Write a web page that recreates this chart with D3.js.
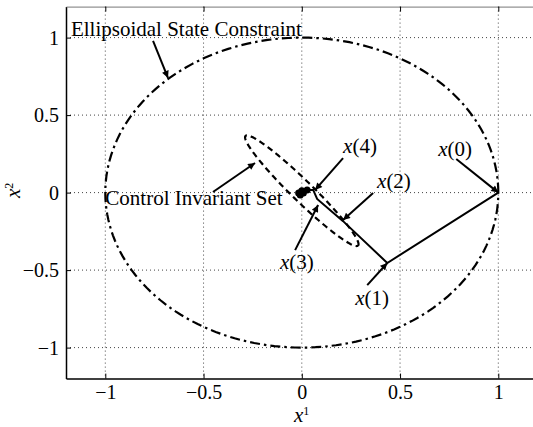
<!DOCTYPE html>
<html lang="en">
<head>
    <meta charset="UTF-8">
    <title>Ellipsoidal state constraint</title>
    <style>
        body { margin: 0; background: #fff; }
        text { font-family: "Liberation Serif", "Times New Roman", Times, serif; fill: #000; }
    </style>
</head>
<body>
<script src="https://d3js.org/d3.v7.min.js"></script>
<script>
    // tick values
    const xTicks = [-1, -0.5, 0, 0.5, 1];
    const yTicks = [-1, -0.5, 0, 0.5, 1];

    // state trajectory x(0), x(1), ...
    const trajX1 = [1, 0.435, 0.21, 0.078, 0.058, 0.027, 0.008, -0.008, -0.016, 0.0];
    const trajX2 = [0, -0.454, -0.184, -0.041, 0.017, 0.017, -0.003, -0.015, -0.002, 0.012];

    // state constraint: unit circle; invariant set: tilted ellipse
    const constraintCenter = [0, 0];
    const constraintRadius = 1;
    const invCenter = [0.0, 0.012];
    const invMajor = [0.285, -0.355];
    const invMinor = [0.046, 0.037];

    // annotations: label, text position, arrow tail, arrow tip (data units)
    const annLabels = ["Ellipsoidal State Constraint", "Control Invariant Set", "0", "1", "2", "3", "4"];
    const annIsState = [false, false, true, true, true, true, true];
    const annText = [[-1.175, 1.011], [-1.0, -0.08], [0.694, 0.236], [0.272, -0.726], [0.383, 0.03], [-0.111, -0.493], [0.21, 0.256]];
    const annTail = [[-0.757, 0.979], [-0.452, 0.004], [0.786, 0.217], [0.333, -0.597], [0.363, -0.003], [-0.034, -0.371], [0.21, 0.223]];
    const annTip = [[-0.681, 0.74], [-0.238, 0.191], [1, 0], [0.435, -0.454], [0.21, -0.177], [0.083, -0.08], [0.068, 0.017]];

    const W = 533, H = 427;
    const FS = 21;
    const x = d3.scaleLinear().domain([-1.2, 1.2]).range([66, 537.6]);
    const y = d3.scaleLinear().domain([-1.2, 1.2]).range([378.6, 6.6]);
    const fmt = d3.format("");

    const svg = d3.select("body").append("svg")
        .attr("width", W)
        .attr("height", H);

    const defs = svg.append("defs");
    defs.append("marker")
        .attr("id", "head")
        .attr("viewBox", "0 0 10 10")
        .attr("refX", 10)
        .attr("refY", 5)
        .attr("markerUnits", "userSpaceOnUse")
        .attr("markerWidth", 11)
        .attr("markerHeight", 7)
        .attr("orient", "auto")
        .append("path")
        .attr("d", "M0,0L10,5L0,10Z")
        .attr("fill", "#000");

    // grid
    svg.append("g").selectAll("line")
        .data(xTicks).enter().append("line")
        .attr("x1", d => x(d)).attr("x2", d => x(d))
        .attr("y1", y(1.2)).attr("y2", y(-1.2))
        .attr("stroke", "#444").attr("stroke-width", 1)
        .attr("stroke-dasharray", "1,3");
    svg.append("g").selectAll("line")
        .data(yTicks).enter().append("line")
        .attr("x1", x(-1.2)).attr("x2", x(1.2))
        .attr("y1", d => y(d)).attr("y2", d => y(d))
        .attr("stroke", "#444").attr("stroke-width", 1)
        .attr("stroke-dasharray", "1,3");

    // axes
    const xAxis = svg.append("g")
        .attr("transform", `translate(0,${y(-1.2)})`)
        .call(d3.axisBottom(x).tickValues(xTicks).tickFormat(fmt).tickSizeInner(-5).tickSizeOuter(0).tickPadding(6));
    const yAxis = svg.append("g")
        .attr("transform", `translate(${x(-1.2)},0)`)
        .call(d3.axisLeft(y).tickValues(yTicks).tickFormat(fmt).tickSizeInner(-5).tickSizeOuter(0).tickPadding(7));
    svg.append("g")
        .attr("transform", `translate(0,${y(1.2)})`)
        .call(d3.axisTop(x).tickValues(xTicks).tickSizeInner(-5).tickSizeOuter(0).tickFormat(""))
        .select(".domain").attr("stroke", "#777");
    [xAxis, yAxis].forEach(a => {
        a.attr("font-family", null).attr("font-size", null);
        a.select(".domain").attr("stroke", "#000").attr("stroke-width", 1.5);
        a.selectAll("text").attr("font-size", 20);
    });

    // state constraint circle (dash-dot)
    const angles = d3.range(0, 361, 2).map(a => a * Math.PI / 180);
    const line = d3.line().x(d => x(d[0])).y(d => y(d[1]));
    svg.append("path")
        .attr("d", line(angles.map(t => [constraintCenter[0] + constraintRadius * Math.cos(t),
                                         constraintCenter[1] + constraintRadius * Math.sin(t)])))
        .attr("fill", "none").attr("stroke", "#000").attr("stroke-width", 2.2)
        .attr("stroke-dasharray", "10,4,2.5,4");

    // control invariant set (dashed)
    svg.append("path")
        .attr("d", line(angles.map(t => [invCenter[0] + invMajor[0] * Math.cos(t) + invMinor[0] * Math.sin(t),
                                         invCenter[1] + invMajor[1] * Math.cos(t) + invMinor[1] * Math.sin(t)])))
        .attr("fill", "none").attr("stroke", "#000").attr("stroke-width", 2.2)
        .attr("stroke-dasharray", "6,4");

    // trajectory
    const traj = trajX1.map((v, i) => [v, trajX2[i]]);
    svg.append("path")
        .attr("d", line(traj))
        .attr("fill", "none").attr("stroke", "#000").attr("stroke-width", 2);
    svg.append("g").selectAll("circle")
        .data(traj.slice(5)).enter().append("circle")
        .attr("cx", d => x(d[0])).attr("cy", d => y(d[1]))
        .attr("r", 3.5).attr("fill", "#000");

    // annotation arrows
    svg.append("g").selectAll("line")
        .data(annLabels).enter().append("line")
        .attr("x1", (d, i) => x(annTail[i][0])).attr("y1", (d, i) => y(annTail[i][1]))
        .attr("x2", (d, i) => x(annTip[i][0])).attr("y2", (d, i) => y(annTip[i][1]))
        .attr("stroke", "#000").attr("stroke-width", 2)
        .attr("marker-end", "url(#head)");

    // annotation labels
    const labels = svg.append("g").selectAll("text")
        .data(annLabels).enter().append("text")
        .attr("x", (d, i) => x(annText[i][0])).attr("y", (d, i) => y(annText[i][1]))
        .attr("font-size", FS);
    labels.each(function(d, i) {
        const t = d3.select(this);
        if (annIsState[i]) {
            t.append("tspan").attr("font-style", "italic").text("x");
            t.append("tspan").text(`(${d})`);
        } else {
            t.text(d);
        }
    });

    // axis labels
    const xl = svg.append("text").attr("x", 294).attr("y", 422).attr("font-size", FS);
    xl.append("tspan").attr("font-style", "italic").text("x");
    xl.append("tspan").attr("font-size", 12).attr("dy", -7).text("1");

    const yl = svg.append("text")
        .attr("transform", "translate(20,198) rotate(-90)")
        .attr("font-size", FS);
    yl.append("tspan").attr("font-style", "italic").text("x");
    yl.append("tspan").attr("font-size", 12).attr("dy", -7).text("2");
</script>
</body>
</html>
